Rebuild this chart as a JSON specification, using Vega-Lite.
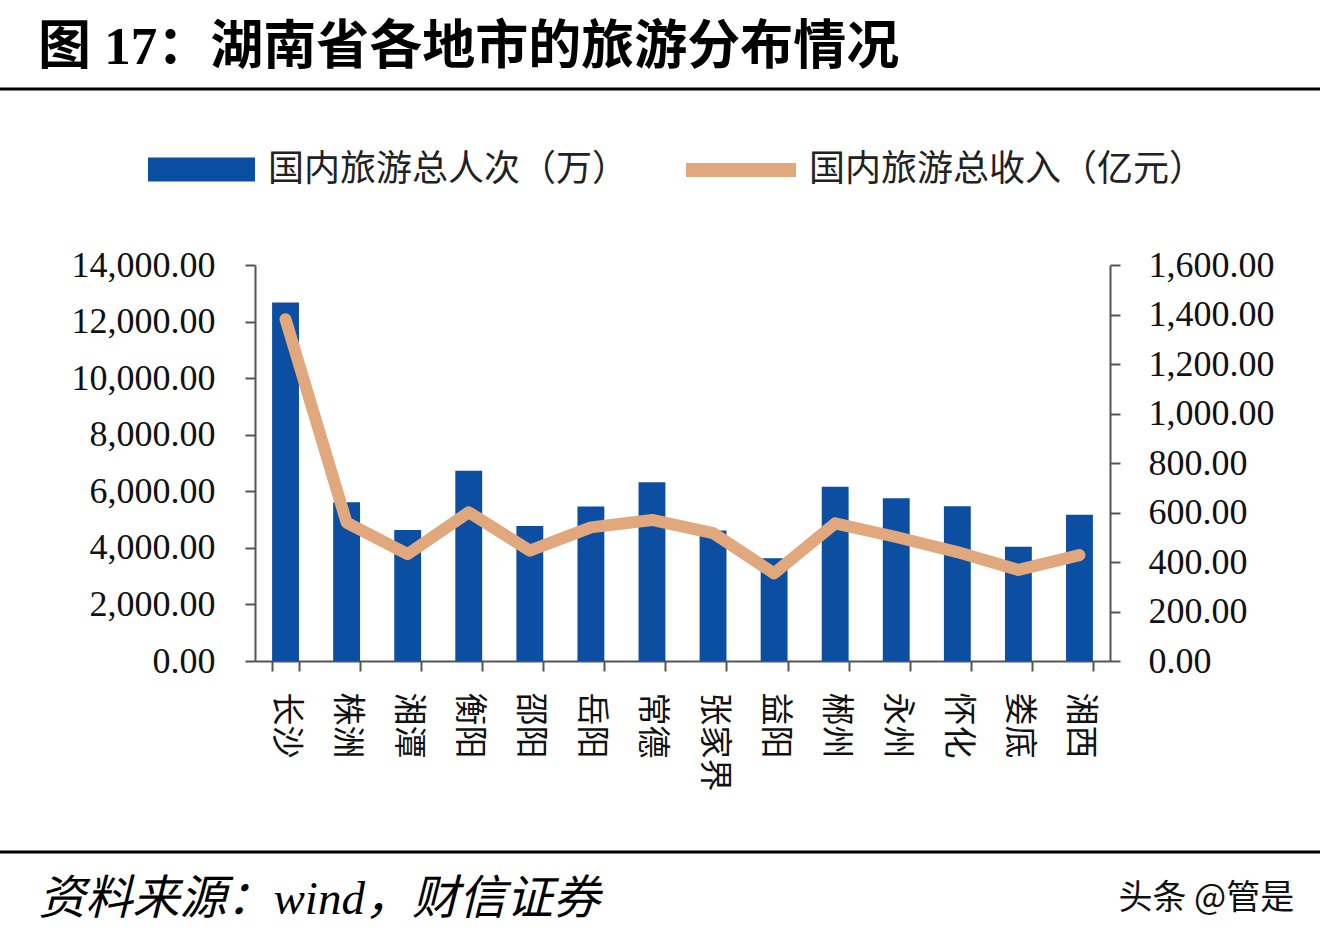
{
  "$schema": "https://vega.github.io/schema/vega-lite/v6.json",
  "width": 1326,
  "height": 763,
  "autosize": {"type": "none"},
  "padding": {"left": -3, "top": 89, "right": 0, "bottom": 88},
  "background": "white",
  "title": {
    "text": "图 17：湖南省各地市的旅游分布情况",
    "anchor": "start",
    "frame": "group",
    "orient": "top",
    "dx": 41,
    "dy": 50,
    "offset": 22,
    "baseline": "alphabetic",
    "font": "Liberation Serif, Noto Sans CJK SC",
    "fontSize": 53,
    "fontWeight": "bold",
    "color": "#000000"
  },
  "data": {
    "values": [
      {"city": "长沙", "visitors": 12670, "revenue": 1381},
      {"city": "株洲", "visitors": 5610, "revenue": 559},
      {"city": "湘潭", "visitors": 4630, "revenue": 432},
      {"city": "衡阳", "visitors": 6730, "revenue": 601},
      {"city": "邵阳", "visitors": 4770, "revenue": 446},
      {"city": "岳阳", "visitors": 5460, "revenue": 540},
      {"city": "常德", "visitors": 6320, "revenue": 570},
      {"city": "张家界", "visitors": 4610, "revenue": 517},
      {"city": "益阳", "visitors": 3630, "revenue": 354},
      {"city": "郴州", "visitors": 6160, "revenue": 556},
      {"city": "永州", "visitors": 5750, "revenue": 501},
      {"city": "怀化", "visitors": 5470, "revenue": 440},
      {"city": "娄底", "visitors": 4040, "revenue": 368},
      {"city": "湘西", "visitors": 5170, "revenue": 428}
    ]
  },
  "encoding": {
    "x": {
      "field": "city",
      "type": "nominal",
      "sort": null,
      "scale": {"range": [258, 1113], "paddingInner": 0.56, "paddingOuter": 0.28},
      "title": "资料来源：wind，财信证券",
      "axis": {
        "offset": -191,
        "tickBand": "extent",
        "tickSize": 10,
        "tickColor": "#555555",
        "tickWidth": 2,
        "domainColor": "#555555",
        "domainWidth": 2,
        "labelAngle": 90,
        "labelAlign": "left",
        "labelBaseline": "middle",
        "labelPadding": 21,
        "labelFont": "Noto Sans CJK SC",
        "labelFontSize": 33,
        "labelColor": "#111111",
        "titleX": 41,
        "titleY": 252,
        "titleAlign": "left",
        "titleAngle": 0,
        "titleBaseline": "alphabetic",
        "titleFont": "Liberation Serif, Noto Sans CJK SC",
        "titleFontSize": 47,
        "titleFontStyle": "italic",
        "titleFontWeight": "normal",
        "titleColor": "#000000"
      }
    }
  },
  "layer": [
    {
      "mark": {"type": "bar"},
      "encoding": {
        "y": {
          "field": "visitors",
          "type": "quantitative",
          "scale": {"domain": [0, 14000], "range": [572, 176], "nice": false},
          "axis": {
            "orient": "left",
            "offset": -258,
            "values": [0, 2000, 4000, 6000, 8000, 10000, 12000, 14000],
            "format": ",.2f",
            "grid": false,
            "title": null,
            "tickSize": 10,
            "tickColor": "#555555",
            "tickWidth": 2,
            "domainColor": "#555555",
            "domainWidth": 2,
            "labelPadding": 30,
            "labelFont": "Liberation Serif",
            "labelFontSize": 36,
            "labelColor": "#111111"
          }
        },
        "fill": {
          "datum": "国内旅游总人次（万）",
          "scale": {"range": ["#0B4EA2"]},
          "legend": {
            "orient": "none",
            "legendX": 151,
            "legendY": 27,
            "title": null,
            "padding": 0,
            "symbolType": "M-1,-0.224H1V0.224H-1Z",
            "symbolSize": 11449,
            "symbolStrokeWidth": 0,
            "labelOffset": 13,
            "labelFont": "Noto Sans CJK SC",
            "labelFontSize": 36,
            "labelColor": "#222222",
            "labelLimit": 0
          }
        }
      }
    },
    {
      "mark": {"type": "line", "strokeWidth": 12, "strokeCap": "round", "strokeJoin": "round"},
      "encoding": {
        "y": {
          "field": "revenue",
          "type": "quantitative",
          "scale": {"domain": [0, 1600], "range": [572, 176], "nice": false},
          "title": "头条 @管是",
          "axis": {
            "orient": "right",
            "offset": -213,
            "values": [0, 200, 400, 600, 800, 1000, 1200, 1400, 1600],
            "format": ",.2f",
            "grid": false,
            "tickSize": 10,
            "tickColor": "#555555",
            "tickWidth": 2,
            "domainColor": "#555555",
            "domainWidth": 2,
            "labelPadding": 28,
            "labelFont": "Liberation Serif",
            "labelFontSize": 36,
            "labelColor": "#111111",
            "titleX": 8,
            "titleY": 819,
            "titleAngle": 0,
            "titleAlign": "left",
            "titleBaseline": "alphabetic",
            "titleFont": "Noto Sans CJK SC",
            "titleFontSize": 34,
            "titleFontWeight": "normal",
            "titleColor": "#111111"
          }
        },
        "stroke": {
          "datum": "国内旅游总收入（亿元）",
          "scale": {"range": ["#E0A87C"]},
          "legend": {
            "orient": "none",
            "legendX": 682,
            "legendY": 19,
            "title": null,
            "padding": 0,
            "symbolType": "stroke",
            "symbolSize": 12100,
            "symbolStrokeWidth": 14,
            "labelOffset": 6,
            "labelFont": "Noto Sans CJK SC",
            "labelFontSize": 36,
            "labelColor": "#222222",
            "labelLimit": 0
          }
        }
      }
    }
  ],
  "resolve": {"scale": {"y": "independent"}},
  "config": {
    "view": {"stroke": "#000000", "strokeWidth": 3}
  }
}
